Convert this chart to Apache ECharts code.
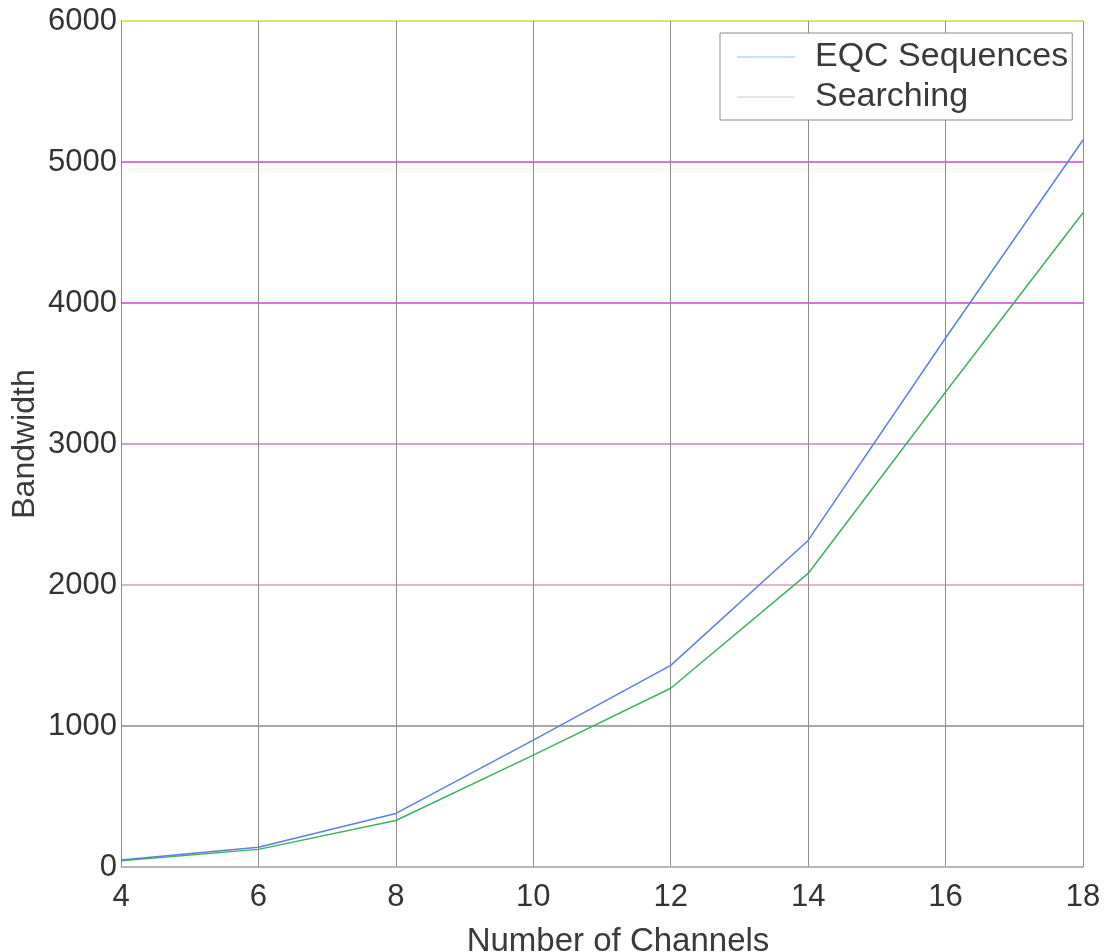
<!DOCTYPE html>
<html>
<head>
<meta charset="utf-8">
<script src="https://cdn.jsdelivr.net/npm/echarts@6/dist/echarts.min.js"></script>
<style>
html,body{margin:0;padding:0;background:#fff;}
#chart{width:1117px;height:952px;}
</style>
</head>
<body>
<div id="chart"></div>
<script>
const channels = [4, 6, 8, 10, 12, 14, 16, 18];
const eqcSequences = [50, 140, 380, 900, 1430, 2316, 3752, 5156];
const searching = [45, 125, 330, 793, 1268, 2082, 3369, 4640];
const yTicks = [0, 1000, 2000, 3000, 4000, 5000, 6000];
const xTicks = [4, 6, 8, 10, 12, 14, 16, 18];

const FONT = '"Liberation Sans", Arial, Helvetica, sans-serif';
const chart = echarts.init(document.getElementById('chart'), null, {renderer: 'canvas'});

const pair = (xs, ys) => xs.map((x, i) => [x, ys[i]]);

chart.setOption({
  backgroundColor: '#ffffff',
  animation: false,
  grid: {left: 121, top: 21, width: 962, height: 846, containLabel: false, outerBoundsMode: 'none'},
  xAxis: {
    type: 'value',
    min: xTicks[0],
    max: xTicks[xTicks.length - 1],
    interval: 2,
    name: 'Number of Channels',
    nameLocation: 'middle',
    nameGap: 58,
    nameMoveOverlap: false,
    nameTextStyle: {fontFamily: FONT, fontSize: 33, color: '#3a3a3a', padding: [0, 0, 0, 32]},
    axisLine: {show: true, lineStyle: {color: '#a8b8b8', width: 1.5}},
    axisTick: {show: false},
    axisLabel: {fontFamily: FONT, fontSize: 31, color: '#333333', margin: 15, formatter: v => String(v)},
    splitLine: {show: true, lineStyle: {color: '#8e8e8e', width: 1}}
  },
  yAxis: {
    type: 'value',
    min: yTicks[0],
    max: yTicks[yTicks.length - 1],
    interval: 1000,
    name: 'Bandwidth',
    nameLocation: 'middle',
    nameGap: 80,
    nameMoveOverlap: false,
    nameTextStyle: {fontFamily: FONT, fontSize: 32, color: '#3a3a3a'},
    axisLine: {show: true, lineStyle: {color: '#8e8e8e', width: 1}},
    axisTick: {show: false},
    axisLabel: {fontFamily: FONT, fontSize: 31, color: '#333333', margin: 4, formatter: v => String(v)},
    splitLine: {show: true, lineStyle: {
      color: ['#a8b8b8', '#8a8a8a', '#d8a0b0', '#c080d8', '#cc44cc', '#cc44dd', '#c8dc40'],
      width: 1.5
    }}
  },
  legend: {
    orient: 'vertical',
    left: 720,
    top: 33,
    padding: [6, 4, 5, 17],
    itemGap: 4,
    itemWidth: 58,
    itemHeight: 14,
    backgroundColor: '#ffffff',
    borderColor: '#8a8a8a',
    borderWidth: 1,
    icon: 'path://M0,6.5 L58,6.5 L58,7.5 L0,7.5 Z',
    textStyle: {fontFamily: FONT, fontSize: 34, color: '#3a3a3a', lineHeight: 36, padding: [0, 0, 0, 15]},
    data: [
      {name: 'EQC Sequences', itemStyle: {color: '#90c8f0'}},
      {name: 'Searching', itemStyle: {color: '#e0c8d8'}}
    ]
  },
  series: [
    {
      name: 'EQC Sequences',
      type: 'line',
      data: pair(channels, eqcSequences),
      showSymbol: false,
      symbol: 'none',
      lineStyle: {color: '#5a80e0', width: 1.5},
      itemStyle: {color: '#5a80e0'},
      z: 3
    },
    {
      name: 'Searching',
      type: 'line',
      data: pair(channels, searching),
      showSymbol: false,
      symbol: 'none',
      lineStyle: {color: '#40b060', width: 1.5},
      itemStyle: {color: '#40b060'},
      z: 2
    }
  ]
});
</script>
</body>
</html>
